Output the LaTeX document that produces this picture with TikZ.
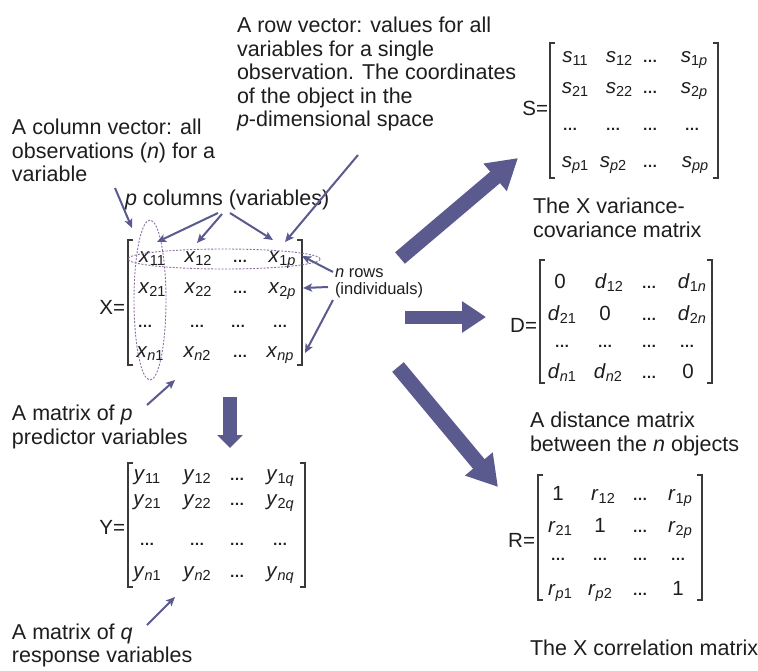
\documentclass[tikz,border=0pt]{standalone}
\usepackage{fontspec}
\setmainfont{Liberation Sans}
\usetikzlibrary{arrows.meta}
\definecolor{arr}{HTML}{5A5A8E}
\definecolor{ellc}{HTML}{8C6FA0}
\definecolor{txt}{HTML}{1E1E1E}
\definecolor{brk}{HTML}{3A3A3A}
\newcommand{\mE}[2]{\textit{#1}\raisebox{-3pt}{\fontsize{14.5}{14.5}\selectfont #2}}
\newcommand{\dts}{{\fontsize{15}{15}\selectfont\textbf{…}}}
\newcommand{\brpair}[4]{%
  \draw[brk,line width=1.2pt] (#1+5,#3) -- (#1,#3) -- (#1,#4) -- (#1+5,#4);
  \draw[brk,line width=1.2pt] (#2-5,#3) -- (#2,#3) -- (#2,#4) -- (#2-5,#4);}
\begin{document}
\begin{tikzpicture}[x=1pt,y=-1pt,
  lbl/.style={inner sep=0pt, outer sep=0pt, align=left, text=txt, anchor=north west, font=\fontsize{21.5}{23.5}\selectfont},
  ent/.style={inner sep=0pt, outer sep=0pt, anchor=base, text=txt, font=\fontsize{20.5}{20.5}\selectfont},
  eqn/.style={inner sep=0pt, outer sep=0pt, anchor=east, text=txt, font=\fontsize{20.5}{20.5}\selectfont},
  thinarrow/.style={draw=arr, line width=2pt, -{Stealth[length=9pt,width=8pt,inset=2pt]}},
  dashell/.style={draw=ellc, line width=0.9pt, dash pattern=on 2pt off 1.5pt}
]
\useasboundingbox (0,0) rectangle (758,670);
\fill[white] (0,0) rectangle (758,670);

% ---------- labels ----------
\node[lbl] (rowvec) at (237,17) {A row vector: values for all\\variables for a single\\observation. The coordinates\\of the object in the\\\textit{p}-dimensional space};
\node[lbl] (colvec) at (12,119) {A column vector: all\\observations (\textit{n}) for a\\variable};
\node[lbl, anchor=base west] (pcol) at (125,205) {\textit{p} columns (variables)};
\node[lbl, anchor=north west, font=\fontsize{16.5}{17}\selectfont] (nrows) at (335,269) {\textit{n} rows\\(individuals)};
\node[lbl] (matp) at (12,405) {A matrix of \textit{p}\\predictor variables};
\node[lbl, font=\fontsize{21.5}{23}\selectfont] (matq) at (12,624) {A matrix of \textit{q}\\response variables};
\node[lbl] (scap) at (533,198) {The X variance-\\covariance matrix};
\node[lbl] (dcap) at (530,412) {A distance matrix\\between the \textit{n} objects};
\node[lbl] (rcap) at (530,640) {The X correlation matrix};

% ---------- X matrix ----------
\node[eqn] (Xeq) at (125,307) {X=};
\brpair{128}{302}{240}{365}
\node[ent] (x11) at (152,262) {\mE{x}{11}};
\node[ent] (x12) at (198,262) {\mE{x}{12}};
\node[ent] (x1d) at (240,262) {\dts};
\node[ent] (x1p) at (282,262) {\mE{x}{1\textit{p}}};
\node[ent] (x21) at (152,293) {\mE{x}{21}};
\node[ent] (x22) at (198,293) {\mE{x}{22}};
\node[ent] (x2d) at (240,293) {\dts};
\node[ent] (x2p) at (282,293) {\mE{x}{2\textit{p}}};
\node[ent] (x31) at (145,327) {\dts};
\node[ent] (x32) at (197,327) {\dts};
\node[ent] (x33) at (238,327) {\dts};
\node[ent] (x34) at (280,327) {\dts};
\node[ent] (xn1) at (150,357) {\mE{x}{\textit{n}1}};
\node[ent] (xn2) at (197,357) {\mE{x}{\textit{n}2}};
\node[ent] (xnd) at (240,357) {\dts};
\node[ent] (xnp) at (280,357) {\mE{x}{\textit{np}}};
\draw[dashell] (150,300) ellipse [x radius=16pt, y radius=80pt];
\draw[dashell] (224,259) ellipse [x radius=96pt, y radius=10pt];

% ---------- Y matrix ----------
\node[eqn] (Yeq) at (125,527) {Y=};
\brpair{128}{305}{463}{587}
\node[ent] (y11) at (147,480) {\mE{y}{11}};
\node[ent] (y12) at (197,480) {\mE{y}{12}};
\node[ent] (y1d) at (237,480) {\dts};
\node[ent] (y1q) at (280,480) {\mE{y}{1\textit{q}}};
\node[ent] (y21) at (147,505) {\mE{y}{21}};
\node[ent] (y22) at (197,505) {\mE{y}{22}};
\node[ent] (y2d) at (237,505) {\dts};
\node[ent] (y2q) at (280,505) {\mE{y}{2\textit{q}}};
\node[ent] (y31) at (147,545) {\dts};
\node[ent] (y32) at (197,545) {\dts};
\node[ent] (y33) at (237,545) {\dts};
\node[ent] (y34) at (280,545) {\dts};
\node[ent] (yn1) at (147,577) {\mE{y}{\textit{n}1}};
\node[ent] (yn2) at (197,577) {\mE{y}{\textit{n}2}};
\node[ent] (ynd) at (237,577) {\dts};
\node[ent] (ynq) at (280,577) {\mE{y}{\textit{nq}}};

% ---------- S matrix ----------
\node[eqn] (Seq) at (548,108) {S=};
\brpair{550}{718}{43}{178}
\node[ent] (s11) at (575,62) {\mE{s}{11}};
\node[ent] (s12) at (619,62) {\mE{s}{12}};
\node[ent] (s1d) at (650,62) {\dts};
\node[ent] (s1p) at (694,62) {\mE{s}{1\textit{p}}};
\node[ent] (s21) at (575,93) {\mE{s}{21}};
\node[ent] (s22) at (619,93) {\mE{s}{22}};
\node[ent] (s2d) at (650,93) {\dts};
\node[ent] (s2p) at (694,93) {\mE{s}{2\textit{p}}};
\node[ent] (s31) at (570,130) {\dts};
\node[ent] (s32) at (613,130) {\dts};
\node[ent] (s33) at (650,130) {\dts};
\node[ent] (s34) at (692,130) {\dts};
\node[ent] (sp1) at (575,167) {\mE{s}{\textit{p}1}};
\node[ent] (sp2) at (613,167) {\mE{s}{\textit{p}2}};
\node[ent] (spd) at (650,167) {\dts};
\node[ent] (spp) at (695,167) {\mE{s}{\textit{pp}}};

% ---------- D matrix ----------
\node[eqn] (Deq) at (537,325) {D=};
\brpair{540}{712}{260}{383}
\node[ent] (d11) at (560,288) {0};
\node[ent] (d12) at (609,288) {\mE{d}{12}};
\node[ent] (d1d) at (649,288) {\dts};
\node[ent] (d1n) at (692,288) {\mE{d}{1\textit{n}}};
\node[ent] (d21) at (562,320) {\mE{d}{21}};
\node[ent] (d22) at (605,320) {0};
\node[ent] (d2d) at (649,320) {\dts};
\node[ent] (d2n) at (692,320) {\mE{d}{2\textit{n}}};
\node[ent] (d31) at (562,347) {\dts};
\node[ent] (d32) at (605,347) {\dts};
\node[ent] (d33) at (649,347) {\dts};
\node[ent] (d34) at (687,347) {\dts};
\node[ent] (dn1) at (562,378) {\mE{d}{\textit{n}1}};
\node[ent] (dn2) at (608,378) {\mE{d}{\textit{n}2}};
\node[ent] (dnd) at (649,378) {\dts};
\node[ent] (dnn) at (688,378) {0};

% ---------- R matrix ----------
\node[eqn] (Req) at (535,540) {R=};
\brpair{538}{702}{475}{600}
\node[ent] (r11) at (558,500) {1};
\node[ent] (r12) at (603,500) {\mE{r}{12}};
\node[ent] (r1d) at (640,500) {\dts};
\node[ent] (r1p) at (680,500) {\mE{r}{1\textit{p}}};
\node[ent] (r21) at (560,532) {\mE{r}{21}};
\node[ent] (r22) at (600,532) {1};
\node[ent] (r2d) at (640,532) {\dts};
\node[ent] (r2p) at (680,532) {\mE{r}{2\textit{p}}};
\node[ent] (r31) at (558,560) {\dts};
\node[ent] (r32) at (600,560) {\dts};
\node[ent] (r33) at (640,560) {\dts};
\node[ent] (r34) at (678,560) {\dts};
\node[ent] (rp1) at (560,595) {\mE{r}{\textit{p}1}};
\node[ent] (rp2) at (600,595) {\mE{r}{\textit{p}2}};
\node[ent] (rpd) at (640,595) {\dts};
\node[ent] (rpp) at (678,595) {1};

% ---------- thick arrows ----------
\coordinate (sT) at (400,258); \coordinate (sH) at (518,158);
\coordinate (dT) at (405,317); \coordinate (dH) at (486,317);
\coordinate (rT) at (398,367); \coordinate (rH) at (498,487);
\coordinate (yT) at (230,397); \coordinate (yH) at (230,448);
\draw[draw=arr, line width=15pt, -{Triangle[length=30pt,width=34pt]}] (sT) -- (sH);
\draw[draw=arr, line width=13pt, -{Triangle[length=24pt,width=30pt]}] (dT) -- (dH);
\draw[draw=arr, line width=15pt, -{Triangle[length=30pt,width=34pt]}] (rT) -- (rH);
\draw[draw=arr, line width=14pt, -{Triangle[length=13pt,width=25pt]}] (yT) -- (yH);

% ---------- thin arrows ----------
\coordinate (c1) at (115,188); \coordinate (c1h) at (132,228);
\coordinate (p1) at (218,213); \coordinate (p1h) at (157,242);
\coordinate (p2) at (222,214); \coordinate (p2h) at (197,243);
\coordinate (p3) at (230,213); \coordinate (p3h) at (273,240);
\coordinate (rv) at (358,155); \coordinate (rvh) at (285,242);
\coordinate (n1) at (333,272); \coordinate (n1h) at (302,256);
\coordinate (n2) at (328,287); \coordinate (n2h) at (303,288);
\coordinate (n3) at (333,300); \coordinate (n3h) at (305,353);
\coordinate (mp) at (147,405); \coordinate (mph) at (175,380);
\coordinate (mq) at (147,625); \coordinate (mqh) at (175,597);
\draw[thinarrow] (c1) -- (c1h);
\draw[thinarrow] (p1) -- (p1h);
\draw[thinarrow] (p2) -- (p2h);
\draw[thinarrow] (p3) -- (p3h);
\draw[thinarrow] (rv) -- (rvh);
\draw[thinarrow] (n1) -- (n1h);
\draw[thinarrow] (n2) -- (n2h);
\draw[thinarrow] (n3) -- (n3h);
\draw[thinarrow] (mp) -- (mph);
\draw[thinarrow] (mq) -- (mqh);
\end{tikzpicture}
\end{document}
